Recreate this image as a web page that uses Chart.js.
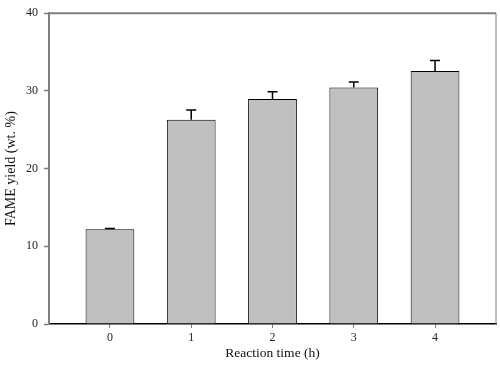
<!DOCTYPE html>
<html>
<head>
<meta charset="utf-8">
<script src="https://cdn.jsdelivr.net/npm/chart.js@4"></script>
<style>
	html, body { margin: 0; padding: 0; background: #fff; }
	#wrap { width: 500px; height: 365px; }
</style>
</head>
<body>
<div id="wrap"><canvas id="chart" width="500" height="365"></canvas></div>
<script>
/* global Chart */
// Datos
const hours = [0, 1, 2, 3, 4];
const fameYield = [12.2, 26.3, 28.95, 30.45, 32.55];
const yieldError = [0.1, 1.25, 0.95, 0.7, 1.35];
const yTicks = [0, 10, 20, 30, 40];

const serif = '"Liberation Serif", "Times New Roman", serif';

// Barras de error (solo hacia arriba)
const errorBars = {
	id: 'errorBars',
	afterDatasetsDraw(chart) {
		const { ctx, scales } = chart;
		const meta = chart.getDatasetMeta(0);
		ctx.save();
		ctx.strokeStyle = '#000';
		ctx.lineWidth = 1.5;
		meta.data.forEach((bar, i) => {
			const x = bar.x;
			const yTop = scales.y.getPixelForValue(fameYield[i] + yieldError[i]);
			const yBar = scales.y.getPixelForValue(fameYield[i]);
			ctx.beginPath();
			ctx.moveTo(x, yBar);
			ctx.lineTo(x, yTop);
			ctx.moveTo(x - 5, yTop);
			ctx.lineTo(x + 5, yTop);
			ctx.stroke();
		});
		ctx.restore();
	}
};

// Marco superior y derecho
const frame = {
	id: 'frame',
	afterDraw(chart) {
		const { ctx, chartArea: a } = chart;
		ctx.save();
		ctx.strokeStyle = '#7f7f7f';
		ctx.lineWidth = 2;
		ctx.beginPath();
		ctx.moveTo(a.left, a.top);
		ctx.lineTo(a.right, a.top);
		ctx.stroke();
		ctx.lineWidth = 1;
		ctx.beginPath();
		ctx.moveTo(a.right, a.top);
		ctx.lineTo(a.right, a.bottom);
		ctx.stroke();
		ctx.restore();
	}
};

const canvas = document.getElementById('chart');

const graph = new Chart(canvas, {
	type: 'bar',
	data: {
		datasets: [{
			data: hours.map((h, i) => ({ x: h, y: fameYield[i] })),
			backgroundColor: '#c0c0c0',
			borderColor: '#000',
			borderWidth: 1,
			barPercentage: 0.6,
			categoryPercentage: 1
		}]
	},
	options: {
		responsive: false,
		animation: false,
		layout: { padding: { top: 9, right: 4, left: 0, bottom: 0 } },
		plugins: {
			legend: { display: false },
			tooltip: { enabled: false }
		},
		scales: {
			x: {
				type: 'linear',
				min: -0.75,
				max: 4.75,
				offset: false,
				afterBuildTicks: (scale) => {
					scale.ticks = hours.map((v) => ({ value: v }));
				},
				afterFit: (scale) => { scale.height = 41; },
				grid: {
					offset: false,
					drawOnChartArea: false,
					tickLength: 4,
					tickColor: '#7f7f7f',
					tickWidth: 1
				},
				border: { color: '#000', width: 1.5 },
				ticks: {
					padding: 3,
					maxRotation: 0,
					color: '#222',
					font: { family: serif, size: 12 }
				},
				title: {
					display: true,
					text: 'Reaction time (h)',
					color: '#111',
					padding: { top: 0, bottom: 3 },
					font: { family: serif, size: 13.5 }
				}
			},
			y: {
				min: 0,
				max: 40,
				afterBuildTicks: (scale) => {
					scale.ticks = yTicks.map((v) => ({ value: v }));
				},
				afterFit: (scale) => { scale.width = 49; },
				grid: {
					drawOnChartArea: false,
					tickLength: 5,
					tickColor: '#7f7f7f',
					tickWidth: 1.5
				},
				border: { color: '#7f7f7f', width: 2 },
				ticks: {
					padding: 6,
					color: '#222',
					font: { family: serif, size: 12 }
				},
				title: {
					display: true,
					text: 'FAME yield (wt. %)',
					color: '#111',
					padding: { top: 3, bottom: 0 },
					font: { family: serif, size: 14 }
				}
			}
		}
	},
	plugins: [errorBars, frame]
});
</script>
</body>
</html>
